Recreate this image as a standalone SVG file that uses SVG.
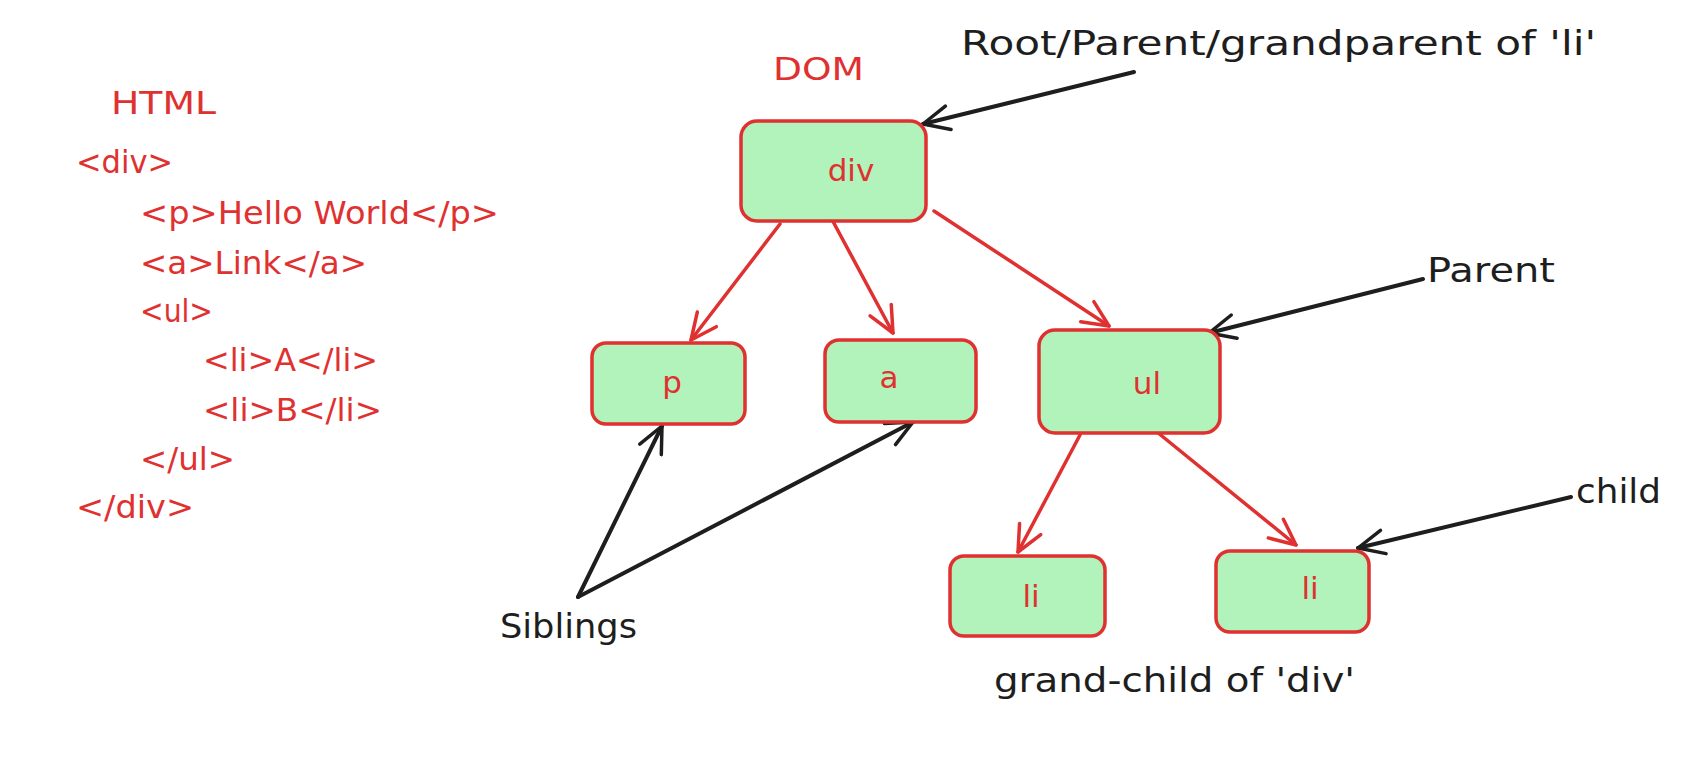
<svg xmlns="http://www.w3.org/2000/svg" width="1693" height="757" viewBox="0 0 1693 757">
<style>
.code{font-family:"DejaVu Sans","Liberation Sans",sans-serif;font-size:32px;fill:#e03131}
.lbl{font-family:"DejaVu Sans","Liberation Sans",sans-serif;font-size:34px;fill:#1e1e1e}
.nt{font-family:"DejaVu Sans","Liberation Sans",sans-serif;font-size:31px;fill:#e03131;text-anchor:middle}
.box{fill:#b2f2bb;stroke:#e03131;stroke-width:3.5}
.rl{fill:none;stroke:#e03131;stroke-width:3.5;stroke-linecap:round}
.bl{fill:none;stroke:#1e1e1e;stroke-width:4;stroke-linecap:round}
</style>
<defs>
<marker id="ar" viewBox="0 0 30 30" refX="28" refY="15" markerWidth="30" markerHeight="30" markerUnits="userSpaceOnUse" orient="auto">
<path d="M2,3 L28,15 L2,27" fill="none" stroke="#e03131" stroke-width="3.5" stroke-linecap="round" stroke-linejoin="round"/>
</marker>
<marker id="ab" viewBox="0 0 30 30" refX="28" refY="15" markerWidth="30" markerHeight="30" markerUnits="userSpaceOnUse" orient="auto">
<path d="M2,3 L28,15 L2,27" fill="none" stroke="#1e1e1e" stroke-width="3.5" stroke-linecap="round" stroke-linejoin="round"/>
</marker>
</defs>
<rect width="1693" height="757" fill="#ffffff"/>
<g id="html-code">
<text class="code" x="111" y="114" textLength="105" lengthAdjust="spacingAndGlyphs">HTML</text>
<text class="code" x="76" y="173" textLength="97" lengthAdjust="spacingAndGlyphs">&lt;div&gt;</text>
<text class="code" x="140" y="224" textLength="359" lengthAdjust="spacingAndGlyphs">&lt;p&gt;Hello World&lt;/p&gt;</text>
<text class="code" x="140" y="274" textLength="227" lengthAdjust="spacingAndGlyphs">&lt;a&gt;Link&lt;/a&gt;</text>
<text class="code" x="140" y="322" textLength="73" lengthAdjust="spacingAndGlyphs">&lt;ul&gt;</text>
<text class="code" x="203" y="371" textLength="175" lengthAdjust="spacingAndGlyphs">&lt;li&gt;A&lt;/li&gt;</text>
<text class="code" x="203" y="421" textLength="179" lengthAdjust="spacingAndGlyphs">&lt;li&gt;B&lt;/li&gt;</text>
<text class="code" x="140" y="470" textLength="95" lengthAdjust="spacingAndGlyphs">&lt;/ul&gt;</text>
<text class="code" x="76" y="518" textLength="118" lengthAdjust="spacingAndGlyphs">&lt;/div&gt;</text>
</g>
<text class="code" x="773" y="80" textLength="91" lengthAdjust="spacingAndGlyphs">DOM</text>
<g id="connectors">
<line class="rl" x1="780" y1="224" x2="691" y2="340" marker-end="url(#ar)"/>
<line class="rl" x1="829" y1="214" x2="893" y2="333" marker-end="url(#ar)"/>
<line class="rl" x1="934" y1="211" x2="1109" y2="326" marker-end="url(#ar)"/>
<line class="rl" x1="1080" y1="435" x2="1018" y2="552" marker-end="url(#ar)"/>
<line class="rl" x1="1157" y1="432" x2="1296" y2="545" marker-end="url(#ar)"/>
<line class="bl" x1="1134" y1="72" x2="923" y2="124" marker-end="url(#ab)"/>
<line class="bl" x1="1423" y1="279" x2="1209" y2="333" marker-end="url(#ab)"/>
<line class="bl" x1="1571" y1="497" x2="1358" y2="548" marker-end="url(#ab)"/>
<line class="bl" x1="578" y1="597" x2="662" y2="426" marker-end="url(#ab)"/>
<line class="bl" x1="578" y1="597" x2="913" y2="422" marker-end="url(#ab)"/>
</g>
<g id="node-div"><rect class="box" x="741" y="121" width="185" height="100" rx="16"/><text class="nt" x="851" y="181">div</text></g>
<g id="node-p"><rect class="box" x="592" y="343" width="153" height="81" rx="14"/><text class="nt" x="672" y="393">p</text></g>
<g id="node-a"><rect class="box" x="825" y="340" width="151" height="82" rx="14"/><text class="nt" x="889" y="388">a</text></g>
<g id="node-ul"><rect class="box" x="1039" y="330" width="181" height="103" rx="16"/><text class="nt" x="1147" y="394">ul</text></g>
<g id="node-li1"><rect class="box" x="950" y="556" width="155" height="80" rx="14"/><text class="nt" x="1031" y="607">li</text></g>
<g id="node-li2"><rect class="box" x="1216" y="551" width="153" height="81" rx="14"/><text class="nt" x="1310" y="599">li</text></g>
<g id="labels">
<text class="lbl" x="961" y="55" textLength="635" lengthAdjust="spacingAndGlyphs">Root/Parent/grandparent of 'li'</text>
<text class="lbl" x="1427" y="282" textLength="128" lengthAdjust="spacingAndGlyphs">Parent</text>
<text class="lbl" x="1576" y="503" textLength="85" lengthAdjust="spacingAndGlyphs">child</text>
<text class="lbl" x="500" y="638" textLength="137" lengthAdjust="spacingAndGlyphs">Siblings</text>
<text class="lbl" x="994" y="692" textLength="361" lengthAdjust="spacingAndGlyphs">grand-child of 'div'</text>
</g>
</svg>
